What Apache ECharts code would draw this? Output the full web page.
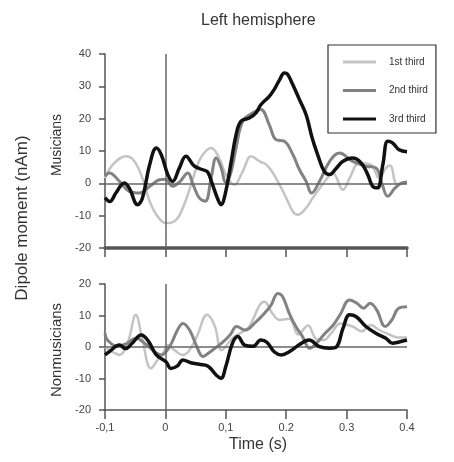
<!DOCTYPE html>
<html><head><meta charset="utf-8">
<script src="https://cdn.jsdelivr.net/npm/echarts@6/dist/echarts.min.js"></script>
<style>html,body{margin:0;padding:0;background:#fff}#c{width:454px;height:462px}</style>
</head><body><div id="c"></div>
<script>
const xTickLabels = ['-0,1', '0', '0,1', '0.2', '0.3', '0.4'];
const legendNames = ['1st third', '2nd third', '3rd third'];

// Musicians (top panel)
const mus1T = [-0.1,-0.087,-0.065,-0.052,-0.038,-0.026,-0.013,0.001,0.018,0.031,0.045,0.056,0.067,0.076,0.089,0.1,0.114,0.128,0.142,0.156,0.167,0.178,0.189,0.2,0.211,0.219,0.233,0.244,0.266,0.277,0.294,0.305,0.321,0.34,0.354,0.365,0.372,0.384,0.4];
const mus1V = [1.6,5.8,8.4,7,1.6,-5.6,-10.2,-12.3,-11.2,-6.6,1.1,7,10,10.9,7.8,2.7,-0.4,3.7,8.4,6.8,5.8,3.2,-0.4,-4.5,-8.7,-9.7,-7.6,-4.5,1.1,3.2,-2,1.6,6.3,5.8,1.6,4.7,5.5,-0.3,0.5];

const mus2T = [-0.1,-0.093,-0.076,-0.06,-0.043,-0.026,-0.01,0.0,0.012,0.024,0.037,0.046,0.056,0.066,0.076,0.084,0.092,0.1,0.108,0.117,0.128,0.145,0.158,0.172,0.183,0.197,0.211,0.222,0.233,0.242,0.255,0.272,0.288,0.31,0.332,0.349,0.359,0.368,0.38,0.39,0.4];
const mus2V = [2.2,3.2,0.6,-2.5,-3,-0.9,1.1,1.3,-0.9,0.5,3.2,-0.5,-4.5,-5.5,2,7.8,5,0.3,3,10.9,19.2,21.8,22.8,18.1,13.5,13,8.9,4.2,0.6,-3,0.6,6.8,9.4,6.8,5.3,4.7,-0.4,-4,-1.5,0,0.3];

const mus3T = [-0.1,-0.092,-0.082,-0.068,-0.06,-0.046,-0.038,-0.026,-0.015,-0.007,0.004,0.012,0.023,0.034,0.048,0.062,0.07,0.078,0.087,0.092,0.1,0.109,0.117,0.125,0.139,0.15,0.158,0.172,0.18,0.189,0.197,0.202,0.211,0.222,0.233,0.243,0.252,0.263,0.272,0.283,0.294,0.31,0.324,0.335,0.343,0.351,0.36,0.368,0.376,0.387,0.4];
const mus3V = [-4.4,-5.6,-3,0.1,-1.4,-6.6,-4.5,5.8,10.9,8.9,2.7,0.6,4.7,8.4,5.3,4.2,3.5,-0.4,-5,-6.6,-2.5,6.8,15,19.2,20.2,21.8,24.3,26.9,29,32,34.1,33.8,30.5,25.9,21.2,14,8.9,3.7,2.7,4.7,6.8,7.8,6.3,2.7,-0.9,-1.4,5.8,13,12.5,10.4,9.8];

// Nonmusicians (bottom panel)
const non1T = [-0.1,-0.088,-0.076,-0.062,-0.049,-0.038,-0.024,-0.013,-0.004,0.004,0.015,0.028,0.038,0.052,0.069,0.082,0.093,0.111,0.125,0.139,0.156,0.164,0.177,0.189,0.205,0.22,0.236,0.25,0.262,0.275,0.29,0.31,0.325,0.34,0.354,0.37,0.385,0.4];
const non1V = [0,-1.5,-2.5,1.7,10.2,2.2,-6.8,-4.1,-2,0.6,-1,-2.5,-1.5,3.3,10.2,6.5,-1,2.8,4.5,6.5,13.3,14.4,10.7,8.6,9,4,6.8,2.5,2.2,4.5,7.5,6.5,5,7,5.4,4,3,3];

const non2T = [-0.1,-0.096,-0.08,-0.065,-0.049,-0.032,-0.018,-0.007,0.007,0.02,0.029,0.04,0.052,0.062,0.071,0.082,0.096,0.107,0.118,0.132,0.15,0.163,0.175,0.186,0.194,0.205,0.216,0.227,0.239,0.25,0.264,0.278,0.289,0.305,0.317,0.328,0.339,0.35,0.364,0.375,0.386,0.4];
const non2V = [4.3,2.2,0.2,1,2.8,0.8,-1.5,-2.5,0.1,5.4,7.5,5.4,0.1,-3,-2,-0.4,1.7,3.8,6.5,5.4,8,10.5,13.3,17,16,10.7,6.5,3.3,-0.4,1.2,4.3,7,10.2,14.9,13.9,12.3,13.9,11.7,6.5,8.6,12.3,12.8];

const non3T = [-0.1,-0.093,-0.076,-0.066,-0.055,-0.04,-0.028,-0.015,0.001,0.009,0.02,0.029,0.042,0.056,0.07,0.084,0.092,0.1,0.111,0.12,0.131,0.145,0.158,0.168,0.18,0.192,0.207,0.222,0.238,0.255,0.272,0.283,0.294,0.305,0.316,0.332,0.349,0.365,0.376,0.387,0.4];
const non3V = [-2.5,-1.5,0.6,-0.5,1.2,3.8,1.8,-2.5,-4.7,-6.8,-6,-4.1,-5,-5.5,-6,-8.9,-9.9,-6.2,1.2,3.3,0.6,0.2,2.2,1.5,-1.5,-2.5,-1.3,0.8,2.2,0.1,-0.4,0,5.9,10.2,9.6,6.5,4.3,2.8,1.2,1.6,2.2];

const colors = ['#c4c4c4', '#828282', '#111111'];
const widths = [2.5, 3, 3.5];
const FONT = 'Liberation Sans';

function pairs(t, v) { return t.map((x, i) => [x, v[i]]); }

const groups = [
  [[mus1T, mus1V], [mus2T, mus2V], [mus3T, mus3V]],
  [[non1T, non1V], [non2T, non2V], [non3T, non3V]]
];

const series = [];
groups.forEach((g, gi) => {
  series.push({
    type: 'line', xAxisIndex: gi, yAxisIndex: gi, data: [], silent: true,
    markLine: {
      silent: true, symbol: 'none', animation: false,
      label: { show: false },
      lineStyle: { color: '#666', width: 1.5, type: 'solid' },
      data: [{ yAxis: 0 }, { xAxis: 0 }]
    }
  });
  g.forEach((d, si) => {
    series.push({
      name: legendNames[si], type: 'line', xAxisIndex: gi, yAxisIndex: gi,
      data: pairs(d[0], d[1]), smooth: 0.4, showSymbol: false, symbol: 'none',
      lineStyle: { color: colors[si], width: widths[si] },
      itemStyle: { color: colors[si] }, z: 3 + si
    });
  });
});

function xAxisCfg(gi) {
  return {
    type: 'value', gridIndex: gi, min: -0.1, max: 0.4, interval: 0.1,
    axisLine: { show: true, onZero: false, lineStyle: { color: '#555', width: gi === 0 ? 3.5 : 1.5 } },
    axisTick: { show: true, length: 9, lineStyle: { color: '#555', width: 1.5 } },
    axisLabel: {
      show: gi === 1, color: '#444', fontSize: 11, fontFamily: FONT, margin: 12,
      formatter: v => xTickLabels[Math.round((v + 0.1) / 0.1)]
    },
    splitLine: { show: false }
  };
}
function yAxisCfg(gi, min, max) {
  return {
    type: 'value', gridIndex: gi, min: min, max: max, interval: 10,
    axisLine: { show: true, onZero: false, lineStyle: { color: '#555', width: 1.5 } },
    axisTick: { show: true, length: 6, lineStyle: { color: '#555', width: 1.5 } },
    axisLabel: { color: '#444', fontSize: 11, fontFamily: FONT, margin: 14 },
    splitLine: { show: false }
  };
}

const chart = echarts.init(document.getElementById('c'), null, { renderer: 'canvas' });
chart.setOption({
  animation: false,
  backgroundColor: '#fff',
  title: {
    text: 'Left hemisphere', left: 196, top: 8,
    textStyle: { fontSize: 16, fontWeight: 'normal', color: '#333', fontFamily: FONT }
  },
  legend: {
    data: legendNames, orient: 'vertical', left: 328, top: 45,
    borderColor: '#333', borderWidth: 1.2, padding: [12, 8, 9, 15],
    itemGap: 18.5, itemWidth: 33, itemHeight: 3, icon: 'rect',
    textStyle: { fontSize: 10, color: '#333', fontFamily: FONT, padding: [0, 0, 0, 8] }
  },
  grid: [
    { left: 105, right: 47, top: 54, height: 194 },
    { left: 105, right: 47, top: 284, height: 126 }
  ],
  xAxis: [xAxisCfg(0), xAxisCfg(1)],
  yAxis: [yAxisCfg(0, -20, 40), yAxisCfg(1, -20, 20)],
  graphic: [
    { type: 'text', x: 22, y: 218, rotation: Math.PI / 2,
      style: { text: 'Dipole moment (nAm)', fill: '#333', font: '17px "Liberation Sans"', align: 'center', verticalAlign: 'middle' } },
    { type: 'text', x: 57, y: 145, rotation: Math.PI / 2,
      style: { text: 'Musicians', fill: '#333', font: '14px "Liberation Sans"', align: 'center', verticalAlign: 'middle' } },
    { type: 'text', x: 57, y: 350, rotation: Math.PI / 2,
      style: { text: 'Nonmusicians', fill: '#333', font: '15px "Liberation Sans"', align: 'center', verticalAlign: 'middle' } },
    { type: 'text', x: 258, y: 445,
      style: { text: 'Time (s)', fill: '#333', font: '16px "Liberation Sans"', align: 'center', verticalAlign: 'middle' } }
  ],
  series: series
});
</script>
</body></html>
